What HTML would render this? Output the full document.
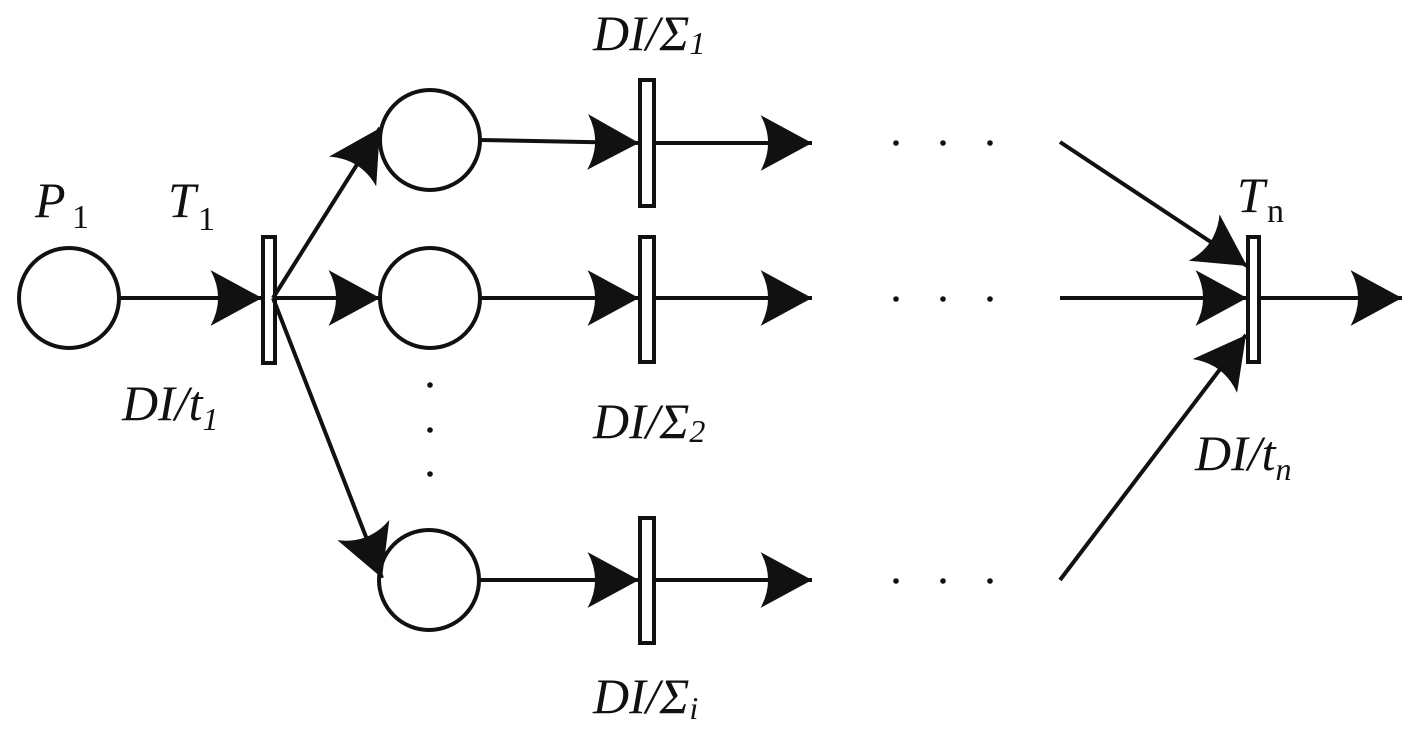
<!DOCTYPE html>
<html><head><meta charset="utf-8"><style>
html,body{margin:0;padding:0;background:#fff;}
svg{display:block;}
text{font-family:"Liberation Serif",serif;font-style:italic;fill:#111;}
</style></head><body>
<svg width="1417" height="732" viewBox="0 0 1417 732" xmlns="http://www.w3.org/2000/svg">
<defs>
<marker id="a" markerUnits="userSpaceOnUse" markerWidth="60" markerHeight="60" viewBox="-52 -28 56 56" refX="0" refY="0" orient="auto">
<path d="M0,0 L-48,-26 Q-34,0 -48,26 Z" fill="#111"/>
</marker>
</defs>
<g stroke="#111" stroke-width="4" fill="none">
<circle cx="69" cy="298" r="50"/>
<circle cx="430" cy="140" r="50"/>
<circle cx="430" cy="298" r="50"/>
<circle cx="429" cy="580" r="50"/>
<rect x="263" y="237" width="12" height="126" fill="#fff"/>
<rect x="640" y="80" width="14" height="126" fill="#fff"/>
<rect x="640" y="237" width="14" height="125" fill="#fff"/>
<rect x="640" y="518" width="14" height="125" fill="#fff"/>
<rect x="1248" y="237" width="11" height="125" fill="#fff"/>
<line x1="119" y1="298" x2="262" y2="298" marker-end="url(#a)"/>
<line x1="273" y1="298" x2="380" y2="298" marker-end="url(#a)"/>
<line x1="273" y1="298" x2="380" y2="128" marker-end="url(#a)"/>
<line x1="273" y1="298" x2="382" y2="578" marker-end="url(#a)"/>
<line x1="480" y1="140" x2="639" y2="143" marker-end="url(#a)"/>
<line x1="480" y1="298" x2="639" y2="298" marker-end="url(#a)"/>
<line x1="479" y1="580" x2="639" y2="580" marker-end="url(#a)"/>
<line x1="654" y1="143" x2="812" y2="143" marker-end="url(#a)"/>
<line x1="654" y1="298" x2="812" y2="298" marker-end="url(#a)"/>
<line x1="654" y1="580" x2="812" y2="580" marker-end="url(#a)"/>
<line x1="1060" y1="142" x2="1247" y2="266" marker-end="url(#a)"/>
<line x1="1060" y1="298" x2="1247" y2="298" marker-end="url(#a)"/>
<line x1="1060" y1="580" x2="1246" y2="335" marker-end="url(#a)"/>
<line x1="1259" y1="298" x2="1402" y2="298" marker-end="url(#a)"/>
</g>
<g fill="#111">
<circle cx="896" cy="143" r="2.8"/><circle cx="943" cy="143" r="2.8"/><circle cx="990" cy="143" r="2.8"/>
<circle cx="896" cy="299" r="2.8"/><circle cx="943" cy="299" r="2.8"/><circle cx="990" cy="299" r="2.8"/>
<circle cx="896" cy="581" r="2.8"/><circle cx="943" cy="581" r="2.8"/><circle cx="990" cy="581" r="2.8"/>
<circle cx="430" cy="385" r="2.8"/><circle cx="430" cy="430" r="2.8"/><circle cx="430" cy="474" r="2.8"/>
</g>
<text x="35" y="217" font-size="50">P</text><text x="72" y="228" font-size="34" font-style="normal" style="font-style:normal">1</text>
<text x="168" y="217" font-size="50">T</text><text x="198" y="230" font-size="34" style="font-style:normal">1</text>
<text x="1237" y="212" font-size="50">T</text><text x="1267" y="222" font-size="34" style="font-style:normal">n</text>
<text x="122" y="420" font-size="50">DI/t<tspan font-size="32" dy="10">1</tspan></text>
<text x="593" y="50" font-size="50">DI/Σ<tspan font-size="32" dy="4">1</tspan></text>
<text x="593" y="438" font-size="50">DI/Σ<tspan font-size="32" dy="4">2</tspan></text>
<text x="593" y="713" font-size="50">DI/Σ<tspan font-size="32" dy="6">i</tspan></text>
<text x="1195" y="470" font-size="50">DI/t<tspan font-size="32" dy="10">n</tspan></text>
</svg>
</body></html>
